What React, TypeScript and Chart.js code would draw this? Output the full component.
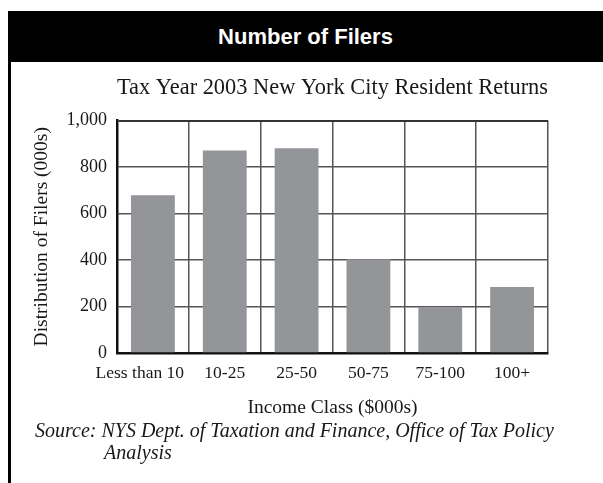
import React, { useEffect, useRef } from "react";
import { Chart, registerables } from "chart.js";

Chart.register(...registerables);

const categories = ["Less than 10", "10-25", "25-50", "50-75", "75-100", "100+"];
const filers = [678, 871, 881, 403, 197, 284];
const headerText = "Number of Filers";
const subtitleText = "Tax Year 2003 New York City Resident Returns";
const yTitle = "Distribution of Filers (000s)";
const xTitle = "Income Class ($000s)";
const sourceLine1 = "Source: NYS Dept. of Taxation and Finance, Office of Tax Policy";
const sourceLine2 = "Analysis";

const SERIF = "'Liberation Serif', 'Times New Roman', serif";

export default function App() {
  const canvasRef = useRef<HTMLCanvasElement | null>(null);

  useEffect(() => {
    const canvas = canvasRef.current;
    if (!canvas) return;
    const chart = new Chart(canvas, {
      type: "bar",
      data: {
        labels: categories,
        datasets: [
          {
            data: filers,
            backgroundColor: "#939598",
            borderWidth: 0,
            barPercentage: 0.61,
            categoryPercentage: 1,
          },
        ],
      },
      options: {
        animation: false,
        responsive: false,
        devicePixelRatio: 1,
        layout: { padding: { left: 11, right: 55, top: 0, bottom: 63 } },
        plugins: {
          legend: { display: false },
          tooltip: { enabled: false },
          title: {
            display: true,
            fullSize: false,
            text: subtitleText,
            color: "#1a1718",
            font: { family: SERIF, size: 22.5, weight: "normal" },
            padding: { top: 74.5, bottom: 19 },
          },
        },
        scales: {
          x: {
            afterFit: (s: any) => {
              s.height = 67;
            },
            grid: {
              offset: true,
              drawTicks: false,
              color: "#555",
              lineWidth: (c: any) => (c.index === categories.length ? 2 : 1.5),
            },
            border: { color: "#111", width: 2.5 },
            ticks: {
              color: "#1a1718",
              padding: 10,
              font: { family: SERIF, size: 17.5 },
              maxRotation: 0,
              autoSkip: false,
              callback: (_v: any, i: number) => (i === 0 ? categories[i] + "      " : categories[i]),
            },
            title: {
              display: true,
              text: xTitle,
              color: "#1a1718",
              font: { family: SERIF, size: 19.5 },
              padding: { top: 0, bottom: 0 },
            },
          },
          y: {
            min: 0,
            max: 1000,
            afterFit: (s: any) => {
              s.width = 106;
            },
            grid: {
              drawTicks: false,
              color: (c: any) => (c.tick && c.tick.value === 1000 ? "#333" : "#555"),
              lineWidth: (c: any) => (c.tick && c.tick.value === 1000 ? 2 : 1.5),
            },
            border: { color: "#111", width: 2.5 },
            ticks: {
              stepSize: 200,
              color: "#1a1718",
              padding: 10,
              font: { family: SERIF, size: 18 },
            },
            title: {
              display: true,
              text: yTitle,
              color: "#1a1718",
              font: { family: SERIF, size: 19.5 },
              padding: { top: 19, bottom: 0 },
            },
          },
        },
      },
    });
    return () => chart.destroy();
  }, []);

  return (
    <div style={{ position: "absolute", left: 0, top: 0, width: 603, height: 483, background: "#fff", overflow: "hidden" }}>
      <canvas ref={canvasRef} width={603} height={483} style={{ position: "absolute", left: 0, top: 0, width: 603, height: 483 }} />
      <div
        style={{
          position: "absolute",
          left: 8,
          top: 11,
          width: 595,
          height: 51,
          background: "#000",
          color: "#fff",
          display: "flex",
          alignItems: "center",
          justifyContent: "center",
          fontFamily: "'Liberation Sans', Arial, sans-serif",
          fontWeight: "bold",
          fontSize: 22,
        }}
      >
        {headerText}
      </div>
      <div style={{ position: "absolute", left: 8, top: 62, width: 3, height: 421, background: "#000" }} />
      <div
        style={{
          position: "absolute",
          left: 35,
          top: 419,
          fontFamily: SERIF,
          fontStyle: "italic",
          fontSize: 20,
          lineHeight: "22px",
          color: "#1a1718",
          whiteSpace: "nowrap",
        }}
      >
        <div>{sourceLine1}</div>
        <div style={{ paddingLeft: 69 }}>{sourceLine2}</div>
      </div>
    </div>
  );
}
